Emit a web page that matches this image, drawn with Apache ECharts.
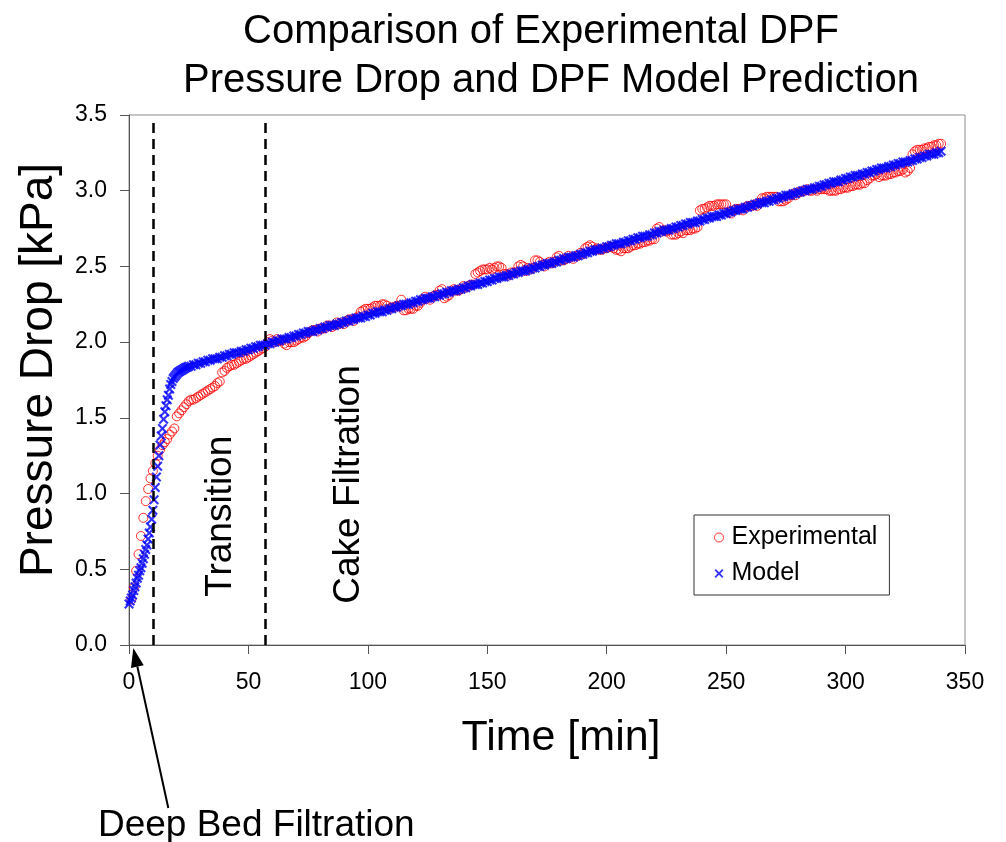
<!DOCTYPE html>
<html>
<head>
<meta charset="utf-8">
<script src="https://cdn.jsdelivr.net/npm/echarts@6/dist/echarts.min.js"></script>
<style>
  html, body { margin: 0; padding: 0; background: #ffffff; }
  #chart { width: 1006px; height: 842px; }
</style>
</head>
<body>
<div id="chart"></div>
<script>
// ---- Text ----
const titleLines = ['Comparison of Experimental DPF', 'Pressure Drop and DPF Model Prediction'];
const xAxisTitle = 'Time [min]';
const yAxisTitle = 'Pressure Drop [kPa]';
const seriesNames = ['Experimental', 'Model'];
const phaseNames = ['Transition', 'Cake Filtration', 'Deep Bed Filtration'];

// ---- Axes ----
const timeTicks = [0, 50, 100, 150, 200, 250, 300, 350];
const dropTicks = [0.0, 0.5, 1.0, 1.5, 2.0, 2.5, 3.0, 3.5];

// Phase boundaries [min]
const phaseBoundaries = [10, 57];

// ---- Measured pressure drop [kPa], one sample per minute from t = 1 min ----
const expStart = 1, expStep = 1;
const expDrop = [
  0.30,0.38,0.49,0.60,0.72,0.84,0.95,1.03,1.10,1.15,
  1.20,1.25,1.29,1.32,1.34,1.36,1.39,1.41,1.43,1.51,
  1.53,1.55,1.57,1.59,1.61,1.62,1.62,1.63,1.64,1.65,
  1.66,1.67,1.68,1.69,1.70,1.71,1.73,1.74,1.80,1.81,
  1.83,1.84,1.85,1.85,1.86,1.87,1.88,1.89,1.89,1.90,
  1.91,1.92,1.93,1.94,1.95,1.96,1.97,2.00,2.02,2.01,
  2.00,2.02,2.01,2.01,1.99,1.98,2.00,2.00,2.00,2.01,
  2.02,2.03,2.03,2.04,2.06,2.07,2.08,2.08,2.07,2.09,
  2.09,2.09,2.11,2.11,2.10,2.11,2.13,2.12,2.13,2.12,
  2.14,2.15,2.15,2.14,2.16,2.17,2.20,2.21,2.22,2.22,
  2.22,2.23,2.24,2.24,2.24,2.25,2.25,2.24,2.22,2.23,
  2.23,2.24,2.24,2.28,2.21,2.21,2.22,2.22,2.22,2.24,
  2.24,2.26,2.28,2.30,2.29,2.28,2.30,2.31,2.31,2.34,
  2.35,2.29,2.30,2.31,2.34,2.35,2.34,2.34,2.35,2.37,
  2.36,2.37,2.38,2.38,2.45,2.46,2.47,2.48,2.48,2.48,
  2.49,2.48,2.49,2.50,2.50,2.49,2.45,2.45,2.44,2.46,
  2.46,2.46,2.50,2.51,2.50,2.47,2.49,2.48,2.49,2.54,
  2.54,2.53,2.51,2.50,2.52,2.53,2.52,2.53,2.56,2.57,
  2.54,2.54,2.55,2.57,2.56,2.55,2.57,2.57,2.59,2.58,
  2.62,2.63,2.64,2.63,2.61,2.62,2.61,2.61,2.62,2.62,
  2.63,2.63,2.62,2.61,2.61,2.60,2.62,2.62,2.62,2.63,
  2.64,2.64,2.65,2.65,2.66,2.66,2.67,2.67,2.68,2.68,
  2.75,2.76,2.73,2.74,2.73,2.74,2.71,2.71,2.71,2.72,
  2.73,2.72,2.74,2.74,2.74,2.75,2.75,2.76,2.87,2.88,
  2.88,2.89,2.90,2.90,2.90,2.91,2.91,2.91,2.91,2.91,
  2.86,2.85,2.87,2.88,2.88,2.88,2.87,2.89,2.90,2.90,
  2.90,2.91,2.90,2.92,2.95,2.95,2.96,2.96,2.96,2.96,
  2.96,2.93,2.93,2.93,2.94,2.95,2.97,2.98,2.97,2.99,
  2.99,3.00,3.00,3.01,3.00,3.00,3.01,3.00,3.01,3.01,
  3.01,3.01,3.00,3.00,3.00,3.00,3.01,3.01,3.02,3.02,
  3.02,3.03,3.03,3.04,3.04,3.04,3.05,3.05,3.07,3.08,
  3.10,3.10,3.11,3.09,3.10,3.10,3.10,3.11,3.11,3.12,
  3.12,3.13,3.13,3.14,3.12,3.13,3.15,3.24,3.26,3.27,
  3.27,3.27,3.28,3.28,3.29,3.29,3.30,3.30,3.31,3.31
];

// ---- Model prediction [kPa] ----
// deep-bed and transition stage, every 0.5 min from t = 0
const modelEarlyStart = 0, modelEarlyStep = 0.5;
const modelEarly = [
  0.27,0.29,0.31,0.33,0.36,0.385,0.41,0.44,0.46,0.49,
  0.51,0.54,0.57,0.60,0.63,0.66,0.70,0.74,0.78,0.83,
  0.89,0.96,1.04,1.11,1.18,1.25,1.32,1.38,1.43,1.49,
  1.54,1.58,1.62,1.65,1.69,1.72,1.74,1.76,1.77,1.78,
  1.79,1.80,1.805,1.81,1.815,1.82,1.825,1.83,1.833,1.836
];
// cake filtration stage, every minute from t = 25 min
const modelLateStart = 25, modelLateStep = 1;
const modelLate = [
  1.84,1.84,1.85,1.85,1.86,1.86,1.87,1.87,1.88,1.88,
  1.89,1.89,1.89,1.90,1.90,1.91,1.91,1.92,1.92,1.93,
  1.93,1.93,1.94,1.94,1.95,1.95,1.96,1.96,1.97,1.97,
  1.98,1.98,1.98,1.99,1.99,2.00,2.00,2.01,2.01,2.02,
  2.02,2.02,2.03,2.03,2.04,2.04,2.05,2.05,2.06,2.06,
  2.07,2.07,2.07,2.08,2.08,2.09,2.09,2.10,2.10,2.11,
  2.11,2.11,2.12,2.12,2.13,2.13,2.14,2.14,2.15,2.15,
  2.16,2.16,2.16,2.17,2.17,2.18,2.18,2.19,2.19,2.20,
  2.20,2.20,2.21,2.21,2.22,2.22,2.23,2.23,2.24,2.24,
  2.25,2.25,2.25,2.26,2.26,2.27,2.27,2.28,2.28,2.29,
  2.29,2.29,2.30,2.30,2.31,2.31,2.32,2.32,2.33,2.33,
  2.34,2.34,2.34,2.35,2.35,2.36,2.36,2.37,2.37,2.38,
  2.38,2.38,2.39,2.39,2.40,2.40,2.41,2.41,2.42,2.42,
  2.43,2.43,2.43,2.44,2.44,2.45,2.45,2.46,2.46,2.47,
  2.47,2.47,2.48,2.48,2.49,2.49,2.50,2.50,2.51,2.51,
  2.52,2.52,2.52,2.53,2.53,2.54,2.54,2.55,2.55,2.56,
  2.56,2.56,2.57,2.57,2.58,2.58,2.59,2.59,2.60,2.60,
  2.61,2.61,2.61,2.62,2.62,2.63,2.63,2.64,2.64,2.65,
  2.65,2.65,2.66,2.66,2.67,2.67,2.68,2.68,2.69,2.69,
  2.70,2.70,2.70,2.71,2.71,2.72,2.72,2.73,2.73,2.74,
  2.74,2.74,2.75,2.75,2.76,2.76,2.77,2.77,2.78,2.78,
  2.79,2.79,2.79,2.80,2.80,2.81,2.81,2.82,2.82,2.83,
  2.83,2.83,2.84,2.84,2.85,2.85,2.86,2.86,2.87,2.87,
  2.88,2.88,2.88,2.89,2.89,2.90,2.90,2.91,2.91,2.92,
  2.92,2.92,2.93,2.93,2.94,2.94,2.95,2.95,2.96,2.96,
  2.97,2.97,2.97,2.98,2.98,2.99,2.99,3.00,3.00,3.01,
  3.01,3.01,3.02,3.02,3.03,3.03,3.04,3.04,3.05,3.05,
  3.06,3.06,3.06,3.07,3.07,3.08,3.08,3.09,3.09,3.10,
  3.10,3.10,3.11,3.11,3.12,3.12,3.13,3.13,3.14,3.14,
  3.15,3.15,3.15,3.16,3.16,3.17,3.17,3.18,3.18,3.19,
  3.19,3.19,3.20,3.20,3.21,3.21,3.22,3.22,3.23,3.23,
  3.24,3.24,3.24,3.25,3.25,3.26
];

// ---- Build [time, value] pairs ----
const expPoints = expDrop.map((v, i) => [expStart + i * expStep, v]);
const modelPoints = modelEarly.map((v, i) => [modelEarlyStart + i * modelEarlyStep, v])
  .concat(modelLate.map((v, i) => [modelLateStart + i * modelLateStep, v]));

// ---- Layout / style ----
const FONT = '"Liberation Sans", Arial, sans-serif';
const GRID = { left: 129, top: 115, right: 41, bottom: 197 };
const AXIS_COLOR = '#555555';
const BOX_COLOR = '#8c8c8c';
const RED = '#ff0000';
const BLUE = '#0000ff';
// filled "x" marker
const CROSS = 'path://M0,1.5L1.5,0L5,3.5L8.5,0L10,1.5L6.5,5L10,8.5L8.5,10L5,6.5L1.5,10L0,8.5L3.5,5Z';

const chart = echarts.init(document.getElementById('chart'), null, { renderer: 'canvas' });

chart.setOption({
  animation: false,
  backgroundColor: '#ffffff',
  textStyle: { fontFamily: FONT },
  grid: {
    left: GRID.left, top: GRID.top, right: GRID.right, bottom: GRID.bottom,
    show: true, borderColor: BOX_COLOR, borderWidth: 1, backgroundColor: 'transparent'
  },
  xAxis: {
    type: 'value',
    min: timeTicks[0], max: timeTicks[timeTicks.length - 1], interval: 50,
    name: xAxisTitle, nameLocation: 'middle', nameGap: 72,
    nameTextStyle: { fontSize: 43, color: '#000', fontFamily: FONT, padding: [0, 0, 0, 28] },
    axisLine: { show: true, lineStyle: { color: AXIS_COLOR, width: 1 } },
    axisTick: { show: true, length: 9, inside: false, lineStyle: { color: AXIS_COLOR } },
    axisLabel: { fontSize: 23, color: '#000', margin: 26, fontFamily: FONT },
    splitLine: { show: false }
  },
  yAxis: {
    type: 'value',
    min: dropTicks[0], max: dropTicks[dropTicks.length - 1], interval: 0.5,
    name: yAxisTitle, nameLocation: 'middle', nameGap: 67, nameRotate: 90,
    nameTextStyle: { fontSize: 46, color: '#000', fontFamily: FONT, padding: [0, 0, 0, 20] },
    axisLine: { show: true, lineStyle: { color: AXIS_COLOR, width: 1 } },
    axisTick: { show: true, length: 9, inside: false, lineStyle: { color: AXIS_COLOR } },
    axisLabel: { fontSize: 23, color: '#000', margin: 22, fontFamily: FONT,
                 formatter: v => v.toFixed(1) },
    splitLine: { show: false }
  },
  legend: {
    orient: 'vertical',
    left: 694, top: 515,
    padding: [10, 12, 9, 20],
    itemGap: 11,
    itemWidth: 9, itemHeight: 9,
    backgroundColor: '#ffffff',
    borderColor: '#333333', borderWidth: 1, borderRadius: 0,
    textStyle: { fontSize: 25, color: '#000', fontFamily: FONT, padding: [0, 0, 0, 3] },
    data: [
      { name: seriesNames[0], icon: 'circle',
        itemStyle: { color: 'transparent', borderColor: RED, borderWidth: 1 } },
      { name: seriesNames[1], icon: CROSS,
        itemStyle: { color: BLUE, borderWidth: 0 } }
    ]
  },
  series: [
    {
      name: seriesNames[0],
      type: 'scatter',
      data: expPoints,
      symbol: 'circle',
      symbolSize: 9,
      itemStyle: { color: 'transparent', borderColor: RED, borderWidth: 1 },
      z: 2,
      markLine: {
        silent: true,
        symbol: ['none', 'none'],
        label: { show: false },
        lineStyle: { color: '#000000', width: 2.5, type: [10, 6] },
        data: phaseBoundaries.map(t => [{ coord: [t, 0] }, { coord: [t, 3.47] }])
      }
    },
    {
      name: seriesNames[1],
      type: 'scatter',
      data: modelPoints,
      symbol: CROSS,
      symbolSize: 10,
      itemStyle: { color: BLUE, borderWidth: 0 },
      z: 3
    }
  ]
});

// ---- Annotations: title, phase names and arrow ----
function px(t, p) { return chart.convertToPixel({ gridIndex: 0 }, [t, p]); }

const plotCenterX = GRID.left + (1006 - GRID.left - GRID.right) / 2;
const graphics = [];

titleLines.forEach((line, i) => {
  graphics.push({
    type: 'text', silent: true,
    style: { text: line, x: plotCenterX + 4 - (i === 0 ? 10 : 0), y: 32 + i * 49,
             fill: '#000', font: '40px ' + FONT, align: 'center', verticalAlign: 'middle' }
  });
});

// rotated phase names inside the plot
const phaseLabelAnchors = [[38.6, 0.85], [92.2, 1.06]];
phaseLabelAnchors.forEach((a, i) => {
  const p = px(a[0], a[1]);
  graphics.push({
    type: 'text', silent: true,
    x: p[0], y: p[1], rotation: Math.PI / 2,
    style: { text: phaseNames[i], x: 0, y: 0, fill: '#000', font: '37px ' + FONT,
             align: 'center', verticalAlign: 'middle' }
  });
});

// deep bed filtration label below the axis, with an arrow pointing at the start of the run
const tip = px(1.8, 0);
tip[1] += 3;
const tail = [tip[0] + 35, tip[1] + 160];
const labelPos = [tail[0] + 88, tail[1] + 18];
graphics.push({
  type: 'text', silent: true,
  style: { text: phaseNames[2], x: labelPos[0], y: labelPos[1], fill: '#000',
           font: '37px ' + FONT, align: 'center', verticalAlign: 'middle' }
});
const dx = tip[0] - tail[0], dy = tip[1] - tail[1];
const len = Math.sqrt(dx * dx + dy * dy);
const ux = dx / len, uy = dy / len;
const headLen = 19, headHalf = 6.5;
const base = [tip[0] - ux * headLen, tip[1] - uy * headLen];
graphics.push({
  type: 'line', silent: true,
  shape: { x1: tail[0], y1: tail[1], x2: base[0], y2: base[1] },
  style: { stroke: '#000', lineWidth: 2 }
});
graphics.push({
  type: 'polygon', silent: true,
  shape: { points: [
    [tip[0], tip[1]],
    [base[0] - uy * headHalf, base[1] + ux * headHalf],
    [base[0] + uy * headHalf, base[1] - ux * headHalf]
  ] },
  style: { fill: '#000' }
});

chart.setOption({ graphic: graphics });
</script>
</body>
</html>
